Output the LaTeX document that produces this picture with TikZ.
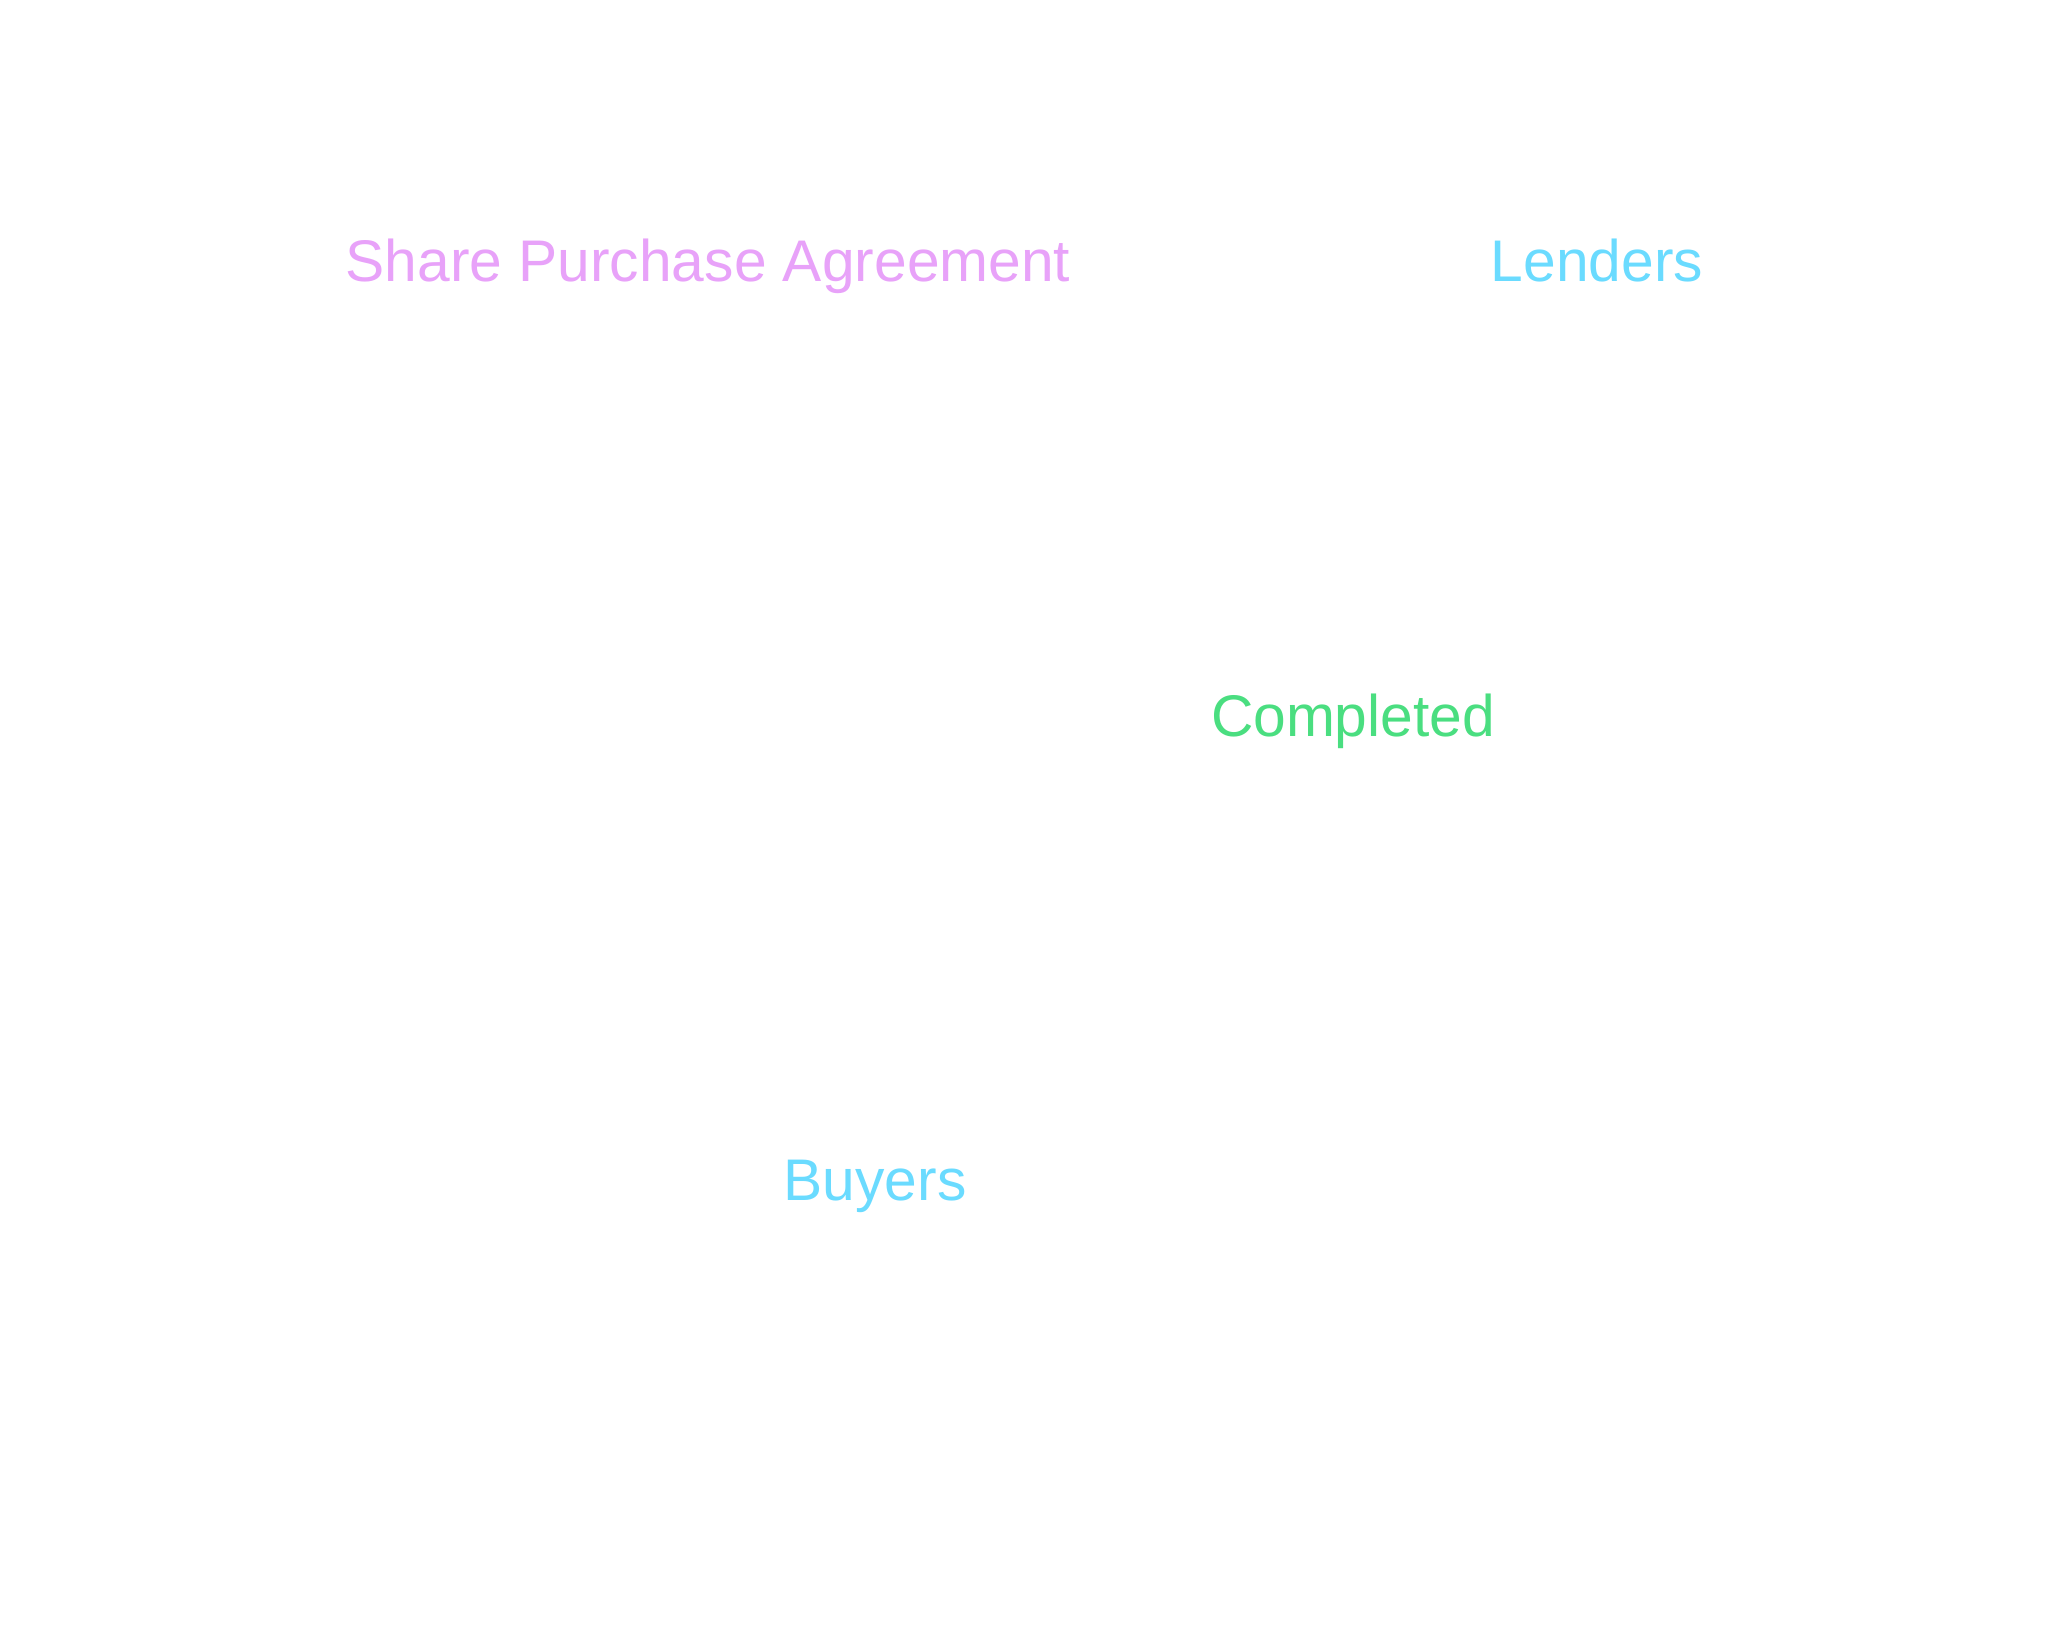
\documentclass[tikz,border=0pt]{standalone}
\usepackage{fontspec}
\setmainfont{Liberation Sans}
\definecolor{pinkc}{HTML}{E8A2F9}
\definecolor{cyanc}{HTML}{6ADBFF}
\definecolor{greenc}{HTML}{4ADE80}
\begin{document}
\begin{tikzpicture}[x=0.01cm,y=-0.01cm,
  lbl/.style={anchor=base,inner sep=0pt,font=\fontsize{16.7}{20}\selectfont}]
\useasboundingbox[fill=white] (0,0) rectangle (2048,1650);
\node[lbl,text=pinkc] (spa) at (708,281) {Share Purchase Agreement};
\node[lbl,text=cyanc] (lenders) at (1597,281) {Lenders};
\node[lbl,text=greenc] (completed) at (1353,736) {Completed};
\node[lbl,text=cyanc] (buyers) at (875,1200) {Buyers};
\end{tikzpicture}
\end{document}
